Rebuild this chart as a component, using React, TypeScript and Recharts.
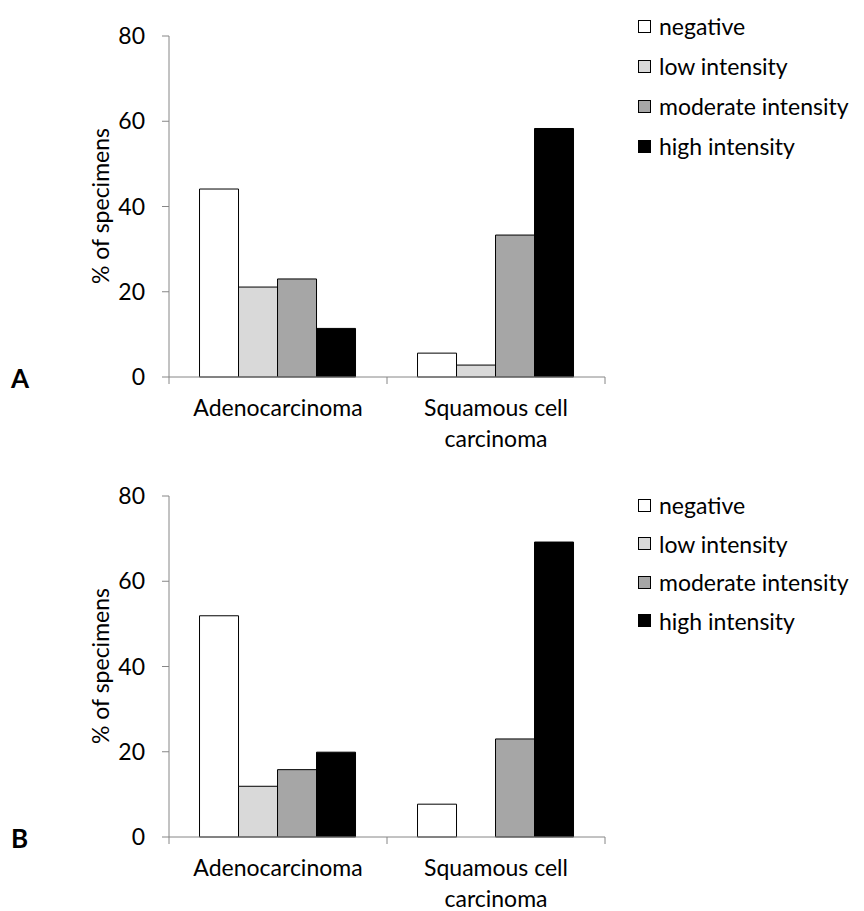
import { BarChart, Bar, XAxis, YAxis, Legend } from "recharts";

const categories = ["Adenocarcinoma", "Squamous cell carcinoma"];
const seriesNames = ["negative", "low intensity", "moderate intensity", "high intensity"];
const seriesColors = ["#ffffff", "#d9d9d9", "#a6a6a6", "#000000"];
const yTicks = [0, 20, 40, 60, 80];

// panel A
const negativeA = [44.1, 5.6];
const lowA = [21.1, 2.8];
const moderateA = [23.0, 33.3];
const highA = [11.4, 58.3];

// panel B
const negativeB = [51.9, 7.7];
const lowB = [11.9, 0];
const moderateB = [15.8, 23.0];
const highB = [19.9, 69.2];

const W = 864;
const H = 451;
const LEFT = 169;
const RIGHT = 259;
const PLOT_W = W - LEFT - RIGHT;
const BAND = PLOT_W / categories.length;
const FONT = "Lato, 'Open Sans', sans-serif";
const FS = 23;
const AXIS = "#868686";

// greedy word wrap, like Excel does for long category names
const wrap = (s: string, max = 15) => {
  const lines: string[] = [];
  let cur = "";
  s.split(" ").forEach((w) => {
    if (cur && (cur + " " + w).length > max) {
      lines.push(cur);
      cur = w;
    } else {
      cur = cur ? cur + " " + w : w;
    }
  });
  if (cur) lines.push(cur);
  return lines;
};

const CategoryTick = ({ x, y, payload, index }: any) => (
  <g>
    <line x1={x - BAND / 2} x2={x - BAND / 2} y1={y} y2={y + 7} stroke={AXIS} />
    {index === categories.length - 1 && (
      <line x1={x + BAND / 2} x2={x + BAND / 2} y1={y} y2={y + 7} stroke={AXIS} />
    )}
    <text x={x} y={y + 39} textAnchor="middle" fontFamily={FONT} fontSize={FS} fill="#000">
      {wrap(String(payload.value)).map((line, i) => (
        <tspan key={i} x={x} dy={i === 0 ? 0 : 31}>
          {line}
        </tspan>
      ))}
    </text>
  </g>
);

const LegendBox = ({ rowH }: any) => (
  <div style={{ fontFamily: FONT, fontSize: FS, color: "#000" }}>
    {seriesNames.map((name, i) => (
      <div key={name} style={{ display: "flex", alignItems: "center", height: rowH }}>
        <span
          style={{
            width: 11,
            height: 11,
            background: seriesColors[i],
            border: "1px solid #000",
            marginRight: 8,
            display: "inline-block",
          }}
        />
        <span>{name}</span>
      </div>
    ))}
  </div>
);

const Panel = ({ tag, series, top, legendTop, rowH }: any) => {
  const data = categories.map((name, i) => {
    const row: any = { name };
    seriesNames.forEach((s, j) => (row[s] = series[j][i]));
    return row;
  });
  return (
    <div style={{ position: "absolute", left: 0, top }}>
      <BarChart
        width={W}
        height={H}
        data={data}
        margin={{ top: 36, right: RIGHT, bottom: 0, left: 0 }}
        barCategoryGap="14%"
        barGap={0}
      >
        <XAxis
          dataKey="name"
          height={H - 36 - 341}
          stroke={AXIS}
          tickLine={false}
          tickSize={0}
          tickMargin={0}
          interval={0}
          tick={<CategoryTick />}
        />
        <YAxis
          width={LEFT}
          domain={[0, 80]}
          ticks={yTicks}
          interval={0}
          stroke={AXIS}
          tickSize={7}
          tickMargin={17}
          tick={{ fill: "#000", fontFamily: FONT, fontSize: FS }}
          label={{
            content: () => (
              <text
                x={109}
                y={206}
                transform="rotate(-90 109 206)"
                textAnchor="middle"
                fontFamily={FONT}
                fontSize={FS}
                fill="#000"
              >
                % of specimens
              </text>
            ),
          }}
        />
        <Legend
          layout="vertical"
          align="center"
          verticalAlign="middle"
          content={<LegendBox rowH={rowH} />}
          wrapperStyle={{ left: 638, top: legendTop, width: 226 }}
        />
        {seriesNames.map((s, j) => (
          <Bar
            key={s}
            dataKey={s}
            fill={seriesColors[j]}
            stroke="#000"
            strokeWidth={1}
            isAnimationActive={false}
          />
        ))}
        <text x={11} y={388} fontFamily={FONT} fontSize={26} fontWeight="bold" fill="#000">
          {tag}
        </text>
      </BarChart>
    </div>
  );
};

export default function App() {
  return (
    <div style={{ position: "absolute", left: 0, top: 0, width: W, height: 911, background: "#fff" }}>
      <Panel tag="A" series={[negativeA, lowA, moderateA, highA]} top={0} legendTop={6} rowH={40} />
      <Panel tag="B" series={[negativeB, lowB, moderateB, highB]} top={460} legendTop={26} rowH={38.5} />
    </div>
  );
}
